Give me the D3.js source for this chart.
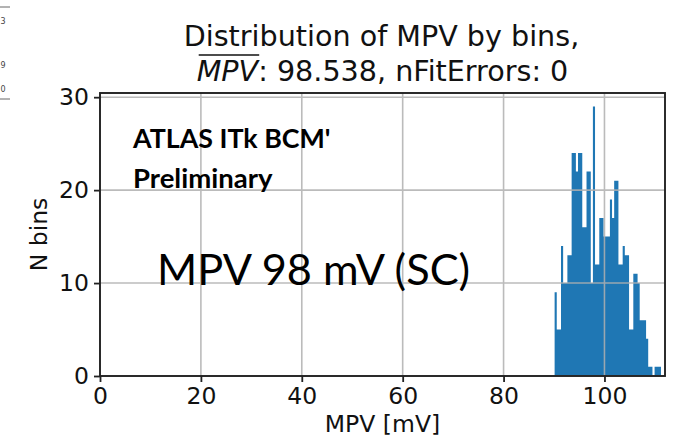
<!DOCTYPE html>
<html>
<head>
<meta charset="utf-8">
<script src="https://cdn.jsdelivr.net/npm/d3@7/dist/d3.min.js"></script>
<style>
  html, body { margin: 0; padding: 0; background: #ffffff; }
  svg { display: block; }
</style>
</head>
<body>
<div id="chart"></div>
<script>
// Histogram of fitted MPV values: counts per bin over [binRangeLo, binRangeHi]
const binRangeLo = 90.12;
const binRangeHi = 111.2;
const binCounts = [
  9, 5, 5, 14, 10, 10, 13, 13, 24, 24,
  22, 24, 24, 16, 16, 22, 22, 10, 29, 12,
  12, 17, 17, 15, 15, 15, 19, 17, 21, 21,
  12, 12, 14, 13, 13, 5, 5, 11, 11, 10,
  6, 6, 6, 4, 1, 1, 0, 1, 1, 1
];
const xTicks = [0, 20, 40, 60, 80, 100];
const yTicks = [0, 10, 20, 30];
const xDomain = [0, 112];
const yDomain = [0, 30.45];

const titleLine1 = "Distribution of MPV by bins,";
const titleMean = "98.538";
const titleErrors = "0";
const xLabel = "MPV [mV]";
const yLabel = "N bins";
const noteLines = ["ATLAS ITk BCM'", "Preliminary"];
const noteBig = "MPV 98 mV (SC)";
const edgeDigits = ["3", "9", "0"];

const W = 679, H = 447;
const plot = { left: 100, right: 665, top: 93, bottom: 376 };

const svg = d3.select("#chart").append("svg")
  .attr("width", W).attr("height", H)
  .style("font-family", "'DejaVu Sans', sans-serif");

svg.append("rect").attr("width", W).attr("height", H).attr("fill", "#ffffff");

const x = d3.scaleLinear().domain(xDomain).range([plot.left, plot.right]);
const y = d3.scaleLinear().domain(yDomain).range([plot.bottom, plot.top]);

// bins
const binWidth = (binRangeHi - binRangeLo) / binCounts.length;
const bins = binCounts.map((c, i) => ({
  x0: binRangeLo + i * binWidth,
  x1: binRangeLo + (i + 1) * binWidth,
  count: c
}));

// the bars are filled as one stepped outline so adjacent bins join cleanly
const outline = d3.path();
outline.moveTo(x(bins[0].x0), y(0));
bins.forEach(b => {
  outline.lineTo(x(b.x0), y(b.count));
  outline.lineTo(x(b.x1), y(b.count));
});
outline.lineTo(x(bins[bins.length - 1].x1), y(0));
outline.closePath();
svg.append("path")
  .attr("d", outline.toString())
  .attr("fill", "#1f77b4");

// grid drawn over the bars
const grid = svg.append("g").attr("stroke", "#b0b0b0").attr("stroke-width", 1.6).attr("opacity", 0.85);
grid.selectAll("line.v").data(xTicks).join("line")
  .attr("x1", d => x(d)).attr("x2", d => x(d))
  .attr("y1", plot.top).attr("y2", plot.bottom);
grid.selectAll("line.h").data(yTicks).join("line")
  .attr("x1", plot.left).attr("x2", plot.right)
  .attr("y1", d => y(d)).attr("y2", d => y(d));

// axes
const tickFont = "23.5px";
const xAxis = svg.append("g").attr("transform", `translate(0,${plot.bottom})`)
  .call(d3.axisBottom(x).tickValues(xTicks).tickSize(6).tickPadding(5).tickFormat(d3.format("d")));
const yAxis = svg.append("g").attr("transform", `translate(${plot.left},0)`)
  .call(d3.axisLeft(y).tickValues(yTicks).tickSize(6).tickPadding(5).tickFormat(d3.format("d")));
[xAxis, yAxis].forEach(a => {
  a.select(".domain").remove();
  a.selectAll(".tick line").attr("stroke", "#222").attr("stroke-width", 1.8);
  a.selectAll(".tick text").attr("fill", "#111")
    .style("font-family", "'DejaVu Sans', sans-serif").style("font-size", tickFont);
});

// frame
svg.append("rect")
  .attr("x", plot.left).attr("y", plot.top)
  .attr("width", plot.right - plot.left).attr("height", plot.bottom - plot.top)
  .attr("fill", "none").attr("stroke", "#222").attr("stroke-width", 1.9);

// axis labels
svg.append("text")
  .attr("x", (plot.left + plot.right) / 2).attr("y", 432)
  .attr("text-anchor", "middle").attr("fill", "#111")
  .style("font-size", "23.5px").text(xLabel);
svg.append("text")
  .attr("transform", `translate(47,${(plot.top + plot.bottom) / 2}) rotate(-90)`)
  .attr("text-anchor", "middle").attr("fill", "#111")
  .style("font-size", "23.5px").text(yLabel);

// title
const cx = (plot.left + plot.right) / 2;
svg.append("text")
  .attr("x", cx - 1).attr("y", 46)
  .attr("text-anchor", "middle").attr("fill", "#111")
  .style("font-size", "28.6px").text(titleLine1);
const t2 = svg.append("text")
  .attr("x", cx).attr("y", 81)
  .attr("text-anchor", "middle").attr("fill", "#111")
  .style("font-size", "28.6px");
const mpvSpan = t2.append("tspan").attr("font-style", "oblique").text("MPV");
t2.append("tspan").text(`: ${titleMean}, nFitErrors: ${titleErrors}`);
// overline above the mean symbol
{
  const n = mpvSpan.node();
  const first = n.getExtentOfChar(0);
  const last = n.getExtentOfChar(2);
  svg.append("line")
    .attr("x1", first.x + 2).attr("x2", last.x + last.width + 1)
    .attr("y1", 55).attr("y2", 55)
    .attr("stroke", "#111").attr("stroke-width", 1.3);
}

// slide annotations
const noteFont = "Lato, 'Open Sans', sans-serif";
svg.append("text")
  .attr("x", 133).attr("y", 148)
  .attr("fill", "#000").style("font-family", noteFont)
  .style("font-weight", "bold").style("font-size", "26.8px").text(noteLines[0]);
svg.append("text")
  .attr("x", 133).attr("y", 188)
  .attr("fill", "#000").style("font-family", noteFont)
  .style("font-weight", "bold").style("font-size", "27.5px").text(noteLines[1]);
svg.append("text")
  .attr("x", 157).attr("y", 285)
  .attr("fill", "#000").style("font-family", noteFont)
  .style("font-size", "43.3px").text(noteBig);

// fragments of a neighbouring panel at the left edge
const edge = svg.append("g").attr("fill", "#444").style("font-size", "8px");
edge.append("line").attr("x1", 0).attr("x2", 10).attr("y1", 7).attr("y2", 7).attr("stroke", "#666");
edge.selectAll("text").data(edgeDigits).join("text")
  .attr("x", 0.5).attr("y", (d, i) => [24, 68, 92][i]).text(d => d);
edge.append("line").attr("x1", 0).attr("x2", 10).attr("y1", 99).attr("y2", 99).attr("stroke", "#666");
</script>
</body>
</html>
